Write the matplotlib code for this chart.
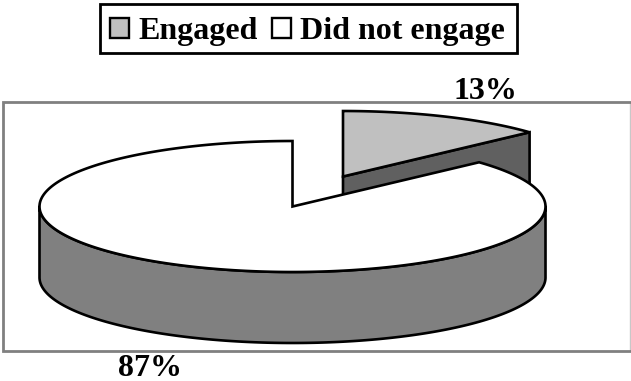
#!/usr/bin/env python3

import numpy as np
import matplotlib
matplotlib.use("Agg")
import matplotlib.pyplot as plt
from matplotlib.patches import Polygon, Rectangle

labels = ["Engaged", "Did not engage"]
values = [13.2, 86.8]
pct_labels = ["13%", "87%"]
colors_top = ["#c0c0c0", "#ffffff"]

# pie geometry in image pixels #
RX = 253
RY = 65.5
DEPTH = 71
CENTER_BIG = (292.5, 206.5)
CENTER_SMALL = (343, 176.5)
LW = 1.9
FS = 23

plt.rcParams["font.family"] = ["Liberation Serif", "DejaVu Serif"]
plt.rcParams["font.weight"] = "bold"

fig = plt.figure(figsize=(6.31, 3.81), dpi=100)
ax = fig.add_axes([0, 0, 1, 1])
ax.set_xlim(0, 631)
ax.set_ylim(381, 0)
ax.axis("off")

# plot frame: right edge is lighter than the others #
ax.plot([630.4, 630.4], [102, 351], color="#c8c8c8", linewidth=1.0, zorder=1)
ax.plot([632, 2.5, 2.5, 632], [102, 102, 351, 351], color="#808080", linewidth=2.0, zorder=1, solid_joinstyle="miter")

def rim(center, a0, a1, n=200):
    t = np.radians(np.linspace(a0, a1, n))
    return np.column_stack((center[0] + RX*np.cos(t), center[1] - RY*np.sin(t)))

total = sum(values)
split = 90 - 360.0*values[0]/total

# detached slice: cut face first, then the top #
p = rim(CENTER_SMALL, split, split, 1)[0]
c = np.array(CENTER_SMALL)
face = np.array([c, p, p + [0, DEPTH], c + [0, DEPTH]])
ax.add_patch(Polygon(face, closed=True, facecolor="#606060", edgecolor="black", linewidth=LW, zorder=2, joinstyle="miter"))
top = np.vstack(([c], rim(CENTER_SMALL, 90, split)))
ax.add_patch(Polygon(top, closed=True, facecolor=colors_top[0], edgecolor="black", linewidth=LW, zorder=3, joinstyle="miter"))

# big slice: wall of the front half, then the top #
front = rim(CENTER_BIG, 180, 360)
wall = np.vstack((front, (front + [0, DEPTH])[::-1]))
ax.add_patch(Polygon(wall, closed=True, facecolor="#808080", edgecolor="black", linewidth=LW, zorder=4, joinstyle="round"))
top = np.vstack(([CENTER_BIG], rim(CENTER_BIG, 90, split + 360, 400)))
ax.add_patch(Polygon(top, closed=True, facecolor=colors_top[1], edgecolor="black", linewidth=LW, zorder=5, joinstyle="miter"))

ax.text(485.5, 99, pct_labels[0], fontsize=FS, ha="center", va="baseline", zorder=6)
ax.text(150, 375.5, pct_labels[1], fontsize=FS, ha="center", va="baseline", zorder=6)

# legend box is drawn apart so the entries can sit low in it #
ax.add_patch(Rectangle((99.5, 3.5), 417.5, 49.5, facecolor="white", edgecolor="black", linewidth=2.0, zorder=1))

handles = []
for i in range(len(labels)):
    handles.append(Rectangle((0, 0), 1, 1, facecolor=colors_top[i], edgecolor="black", linewidth=1.7))

leg = ax.legend(handles, labels, ncol=2, loc="center", bbox_to_anchor=(307.5/631, 1-31.5/381),
                fontsize=FS, frameon=False,
                handlelength=0.6, handleheight=0.6, handletextpad=0.28, columnspacing=0.45,
                borderpad=0.3, borderaxespad=0)

fig.savefig("out.png", dpi=100)
